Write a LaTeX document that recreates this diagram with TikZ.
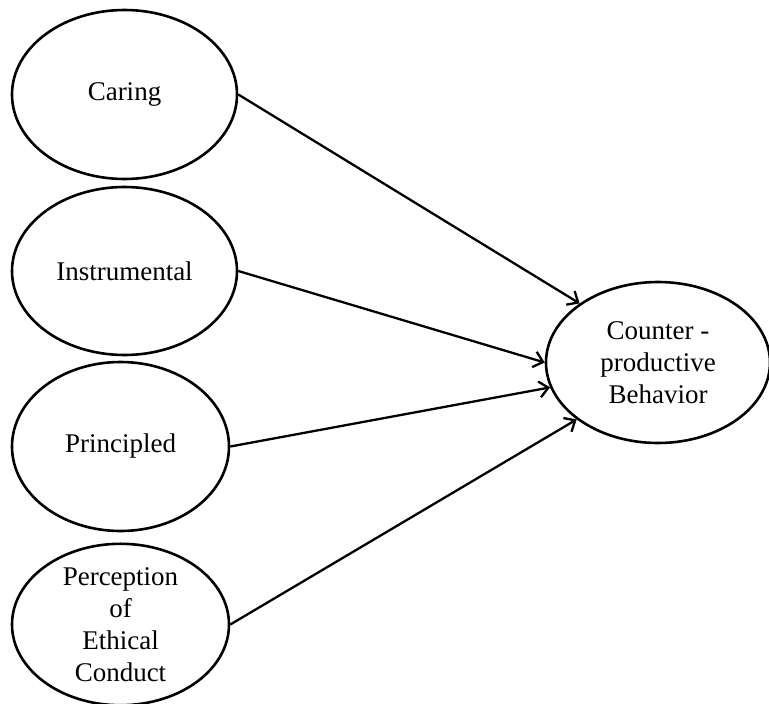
\documentclass[tikz,border=0pt]{standalone}
\usepackage{fontspec}
\setmainfont{Liberation Serif}
\usetikzlibrary{shapes.geometric,arrows.meta}
\begin{document}
\begin{tikzpicture}[x=1pt,y=-1pt,
  oval/.style={draw,ellipse,line width=2.6pt,inner sep=0pt,align=center,
    font=\fontsize{27}{32}\selectfont},
  link/.style={line width=2.3pt,-{Straight Barb[length=9pt,width=16pt,line width=2.3pt]}}]
\useasboundingbox (0,0) rectangle (769,704);
\node[oval,minimum width=225pt,minimum height=169pt] (car) at (124.5,94.5) {Caring};
\node[oval,minimum width=225pt,minimum height=168pt] (ins) at (124.5,271) {Instrumental};
\node[oval,minimum width=217pt,minimum height=169pt] (pri) at (120.5,446.5) {Principled};
\node[oval,minimum width=217pt,minimum height=157pt] (per) at (120.5,624.5) {Perception\\of\\Ethical\\Conduct};
\node[oval,minimum width=224pt,minimum height=161pt] (cpb) at (658,362.5) {Counter -\\productive\\Behavior};
\draw[link] (car.east) -- (cpb.143.5);
\draw[link] (ins.east) -- (cpb.180);
\draw[link] (pri.east) -- (cpb.193);
\draw[link] (per.east) -- (cpb.215);
\end{tikzpicture}
\end{document}
